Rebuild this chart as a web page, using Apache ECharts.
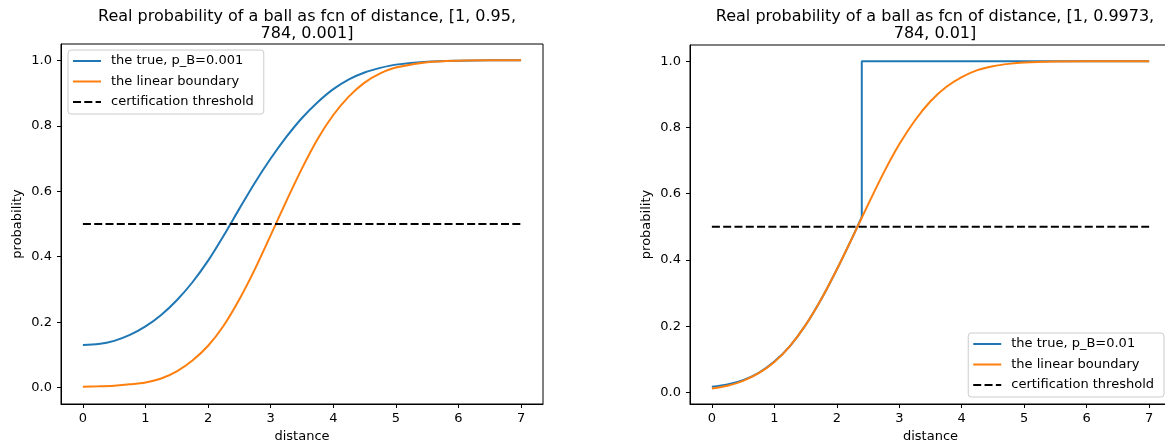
<!DOCTYPE html>
<html>
<head>
<meta charset="utf-8">
<script src="https://cdn.jsdelivr.net/npm/echarts@6/dist/echarts.min.js"></script>
<style>
  html, body { margin: 0; padding: 0; background: #fff; }
  #chart { width: 1165px; height: 444px; }
</style>
</head>
<body>
<div id="chart"></div>
<script>
  // distance samples shared by the smooth curves
  const xs = [0, 0.25, 0.5, 0.75, 1, 1.25, 1.5, 1.75, 2, 2.25, 2.5, 2.75, 3, 3.25, 3.5, 3.75, 4, 4.25, 4.5, 4.75, 5, 5.5, 6, 6.5, 7];

  // left panel, [1, 0.95, 784, 0.001]
  const leftTrue = [0.130, 0.133, 0.143, 0.161, 0.187, 0.222, 0.267, 0.322, 0.388, 0.465, 0.547, 0.627, 0.700, 0.766, 0.824, 0.872, 0.912, 0.942, 0.963, 0.977, 0.987, 0.996, 0.999, 1.0, 1.0];
  const leftLinear = [0.003, 0.004, 0.006, 0.010, 0.016, 0.028, 0.050, 0.083, 0.128, 0.190, 0.270, 0.363, 0.466, 0.570, 0.670, 0.760, 0.833, 0.890, 0.932, 0.960, 0.978, 0.994, 0.999, 1.0, 1.0];

  // right panel, [1, 0.9973, 784, 0.01]
  const rightLinear = [0.012, 0.020, 0.035, 0.058, 0.092, 0.140, 0.203, 0.281, 0.371, 0.468, 0.567, 0.663, 0.749, 0.821, 0.879, 0.922, 0.952, 0.973, 0.985, 0.992, 0.996, 0.999, 1.0, 1.0, 1.0];
  const rightTrueX = [0, 0.25, 0.5, 0.75, 1, 1.25, 1.5, 1.75, 2, 2.25, 2.4];
  const rightTrueY = [0.017, 0.024, 0.037, 0.059, 0.093, 0.140, 0.203, 0.281, 0.371, 0.468, 0.530];
  const stepX = [2.4, 2.4, 7];
  const stepY = [0.530, 1.0, 1.0];

  const thrX = [0, 7];
  const thrY = [0.5, 0.5];

  const xTicks = [0, 1, 2, 3, 4, 5, 6, 7];
  const yTicks = [0, 0.2, 0.4, 0.6, 0.8, 1.0];

  const BLUE = '#1f77b4';
  const ORANGE = '#ff7f0e';
  const FONT = 'DejaVu Sans';
  const pairs = (a, b) => a.map((v, i) => [v, b[i]]);

  const chart = echarts.init(document.getElementById('chart'), null, {renderer: 'canvas'});

  function xAxis(gridIndex) {
    return {
      type: 'value', gridIndex, min: -0.35, max: 7.35,
      name: 'distance', nameLocation: 'middle', nameGap: 26,
      nameTextStyle: {fontFamily: FONT, fontSize: 13, color: '#000'},
      axisLine: {show: true, onZero: false, lineStyle: {color: '#000', width: 1}},
      axisTick: {show: true, length: 4, lineStyle: {color: '#000'}, customValues: xTicks},
      axisLabel: {fontFamily: FONT, fontSize: 13, color: '#000', margin: 8, customValues: xTicks},
      splitLine: {show: false}
    };
  }

  function yAxis(gridIndex, min, max) {
    return {
      type: 'value', gridIndex, min, max,
      name: 'probability', nameLocation: 'middle', nameGap: 37,
      nameTextStyle: {fontFamily: FONT, fontSize: 13, color: '#000'},
      axisLine: {show: true, onZero: false, lineStyle: {color: '#000', width: 1}},
      axisTick: {show: true, length: 4, lineStyle: {color: '#000'}, customValues: yTicks},
      axisLabel: {fontFamily: FONT, fontSize: 13, color: '#000', margin: 9, customValues: yTicks,
        formatter: v => v.toFixed(1)},
      splitLine: {show: false}
    };
  }

  // legend shows only the line sample, the symbol is made invisible
  function legend(names, pos) {
    return Object.assign({
      orient: 'vertical',
      data: names,
      itemWidth: 28, itemHeight: 14, itemGap: 6.5,
      itemStyle: {opacity: 0, borderWidth: 0},
      padding: [4, 10, 5, 4],
      backgroundColor: 'rgba(255,255,255,0.8)',
      borderColor: '#cccccc', borderWidth: 1, borderRadius: 3,
      selectedMode: false,
      textStyle: {fontFamily: FONT, fontSize: 13, color: '#000', lineHeight: 14, padding: [0, 0, 0, 5]}
    }, pos);
  }

  const lineBase = {type: 'line', symbol: 'none', animation: false};

  chart.setOption({
    animation: false,
    title: [
      {text: 'Real probability of a ball as fcn of distance, [1, 0.95,\n784, 0.001]',
       left: 302, top: 3, textAlign: 'center',
       textStyle: {fontFamily: FONT, fontSize: 16, fontWeight: 'normal', color: '#000', lineHeight: 17}},
      {text: 'Real probability of a ball as fcn of distance, [1, 0.9973,\n784, 0.01]',
       left: 930, top: 3, textAlign: 'center',
       textStyle: {fontFamily: FONT, fontSize: 16, fontWeight: 'normal', color: '#000', lineHeight: 17}}
    ],
    // the right axes box runs past the canvas edge, as in the source figure
    grid: [
      {left: 61, top: 44, width: 482, height: 360, show: true, borderColor: '#000', borderWidth: 1,
       backgroundColor: '#fff', outerBoundsMode: 'none'},
      {left: 690, top: 45, width: 481, height: 359, show: true, borderColor: '#000', borderWidth: 1,
       backgroundColor: '#fff', outerBoundsMode: 'none'}
    ],
    xAxis: [xAxis(0), xAxis(1)],
    yAxis: [yAxis(0, -0.05, 1.05), yAxis(1, -0.035, 1.049)],
    legend: [
      legend(['the true, p_B=0.001', 'the linear boundary', 'certification threshold'], {left: 68, top: 50}),
      legend(['the true, p_B=0.01', 'the linear boundary', 'certification threshold'], {right: 1, bottom: 47})
    ],
    series: [
      Object.assign({}, lineBase, {name: 'the true, p_B=0.001', xAxisIndex: 0, yAxisIndex: 0, smooth: 0.3,
        data: pairs(xs, leftTrue), lineStyle: {color: BLUE, width: 2}, itemStyle: {color: BLUE}}),
      Object.assign({}, lineBase, {name: 'the linear boundary', xAxisIndex: 0, yAxisIndex: 0, smooth: 0.3,
        data: pairs(xs, leftLinear), lineStyle: {color: ORANGE, width: 2}, itemStyle: {color: ORANGE}}),
      Object.assign({}, lineBase, {name: 'certification threshold', xAxisIndex: 0, yAxisIndex: 0,
        data: pairs(thrX, thrY), lineStyle: {color: '#000', width: 2, type: [8, 3.3]}, itemStyle: {color: '#000'}}),

      Object.assign({}, lineBase, {name: 'the true, p_B=0.01', xAxisIndex: 1, yAxisIndex: 1, smooth: 0.3,
        data: pairs(rightTrueX, rightTrueY), lineStyle: {color: BLUE, width: 2}, itemStyle: {color: BLUE}}),
      Object.assign({}, lineBase, {name: 'the true, p_B=0.01', xAxisIndex: 1, yAxisIndex: 1,
        data: pairs(stepX, stepY), lineStyle: {color: BLUE, width: 2}, itemStyle: {color: BLUE}}),
      Object.assign({}, lineBase, {name: 'the linear boundary', xAxisIndex: 1, yAxisIndex: 1, smooth: 0.3,
        data: pairs(xs, rightLinear), lineStyle: {color: ORANGE, width: 2}, itemStyle: {color: ORANGE}}),
      Object.assign({}, lineBase, {name: 'certification threshold', xAxisIndex: 1, yAxisIndex: 1,
        data: pairs(thrX, thrY), lineStyle: {color: '#000', width: 2, type: [8, 3.3]}, itemStyle: {color: '#000'}})
    ]
  });

  window.addEventListener('resize', () => chart.resize());
</script>
</body>
</html>
